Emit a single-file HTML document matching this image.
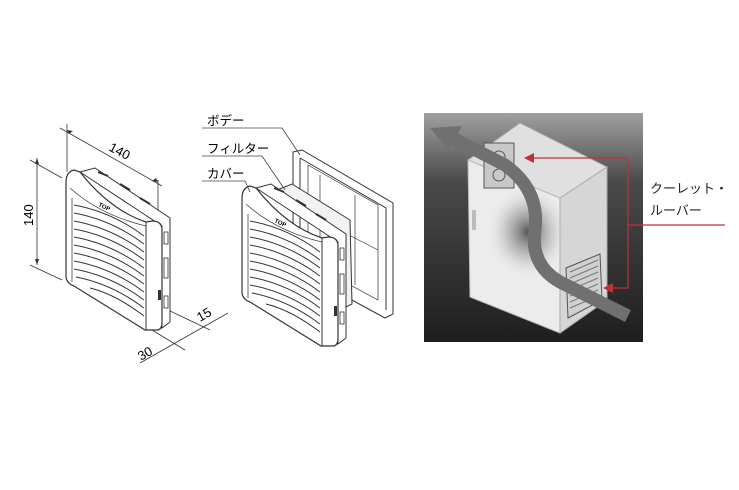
<!DOCTYPE html>
<html><head><meta charset="utf-8"><style>
body{margin:0;background:#fff;}
svg{display:block;}
text{font-family:"Liberation Sans","Noto Sans CJK JP",sans-serif;}
</style></head><body>
<svg width="739" height="490" viewBox="0 0 739 490" xmlns="http://www.w3.org/2000/svg">
<defs>
<linearGradient id="bg" x1="0" y1="0" x2="0" y2="1">
<stop offset="0" stop-color="#a0a0a0"/><stop offset="0.3" stop-color="#4a4a4a"/><stop offset="1" stop-color="#1e1e1e"/>
</linearGradient>
<radialGradient id="glow" cx="0.5" cy="0.5" r="0.5">
<stop offset="0" stop-color="#555"/><stop offset="0.6" stop-color="#aaa" stop-opacity="0.5"/><stop offset="1" stop-color="#ddd" stop-opacity="0"/>
</radialGradient>
<g id="cover">
<!-- body side behind -->
<path d="M80,172 L95,168 L170,218 L170,322 L162,328 L162,226 Z" fill="#fff" stroke="#333" stroke-width="1"/>
<path d="M98,172 L108,176 M120,184 L130,190 M140,198 L150,204" stroke="#333" stroke-width="2"/>
<rect x="164" y="232" width="4" height="12" fill="#fff" stroke="#333" stroke-width="0.8"/>
<rect x="164" y="258" width="4" height="20" fill="#fff" stroke="#333" stroke-width="0.8"/>
<rect x="164" y="296" width="4" height="12" fill="#fff" stroke="#333" stroke-width="0.8"/>
<!-- front cover -->
<path d="M74,170 Q66,172 66,182 L66,276 Q66,283 74,286 L145,330 L158,330 Q162,329 162,322 L162,230 Q162,221 152,221 L146,222 Q110,210 80,172 Z" fill="#fff" stroke="#333" stroke-width="1.2"/>
<path d="M146,222 L146,330" stroke="#333" stroke-width="1"/>
<path d="M70,188 Q100,215 146,226" fill="none" stroke="#444" stroke-width="0.8"/>
<path d="M72,198 L72,282" stroke="#444" stroke-width="0.8"/>
<rect x="158" y="290" width="3" height="10" fill="#333"/>
<path d="M74,205 Q112,212 144,236" fill="none" stroke="#333"/>
<path d="M74,213 Q112,220 144,244" fill="none" stroke="#333"/>
<path d="M74,221 Q112,228 144,252" fill="none" stroke="#333"/>
<path d="M74,229 Q112,236 144,260" fill="none" stroke="#333"/>
<path d="M74,237 Q112,244 144,268" fill="none" stroke="#333"/>
<path d="M74,245 Q112,252 144,276" fill="none" stroke="#333"/>
<path d="M74,253 Q112,260 144,284" fill="none" stroke="#333"/>
<path d="M74,261 Q112,268 144,292" fill="none" stroke="#333"/>
<path d="M74,269 Q112,276 144,300" fill="none" stroke="#333"/>
<path d="M76,277 Q112,284 144,308" fill="none" stroke="#333"/>
<path d="M90,288 Q115,294 144,316" fill="none" stroke="#333"/>
<text x="98" y="206" font-size="6" font-weight="bold" transform="rotate(25 98 206)">TOP</text>
</g>
</defs>
<rect width="739" height="490" fill="#fff"/>

<!-- Left product -->
<g stroke="#333" stroke-width="0.8" fill="none">
<line x1="67" y1="124" x2="67" y2="172"/>
<line x1="60" y1="128" x2="162" y2="186"/>
<line x1="158" y1="180" x2="158" y2="225"/>
<line x1="30" y1="160" x2="62" y2="178"/>
<line x1="37" y1="158" x2="37" y2="265"/>
<line x1="30" y1="265" x2="62" y2="280"/>
<line x1="168" y1="310" x2="210" y2="330"/>
<line x1="152" y1="330" x2="185" y2="350"/>
<line x1="140" y1="363" x2="228" y2="313"/>
</g>
<polygon points="67,130 73,131 69,134" fill="#333"/>
<polygon points="158,182 152,181 156,178" fill="#333"/>
<polygon points="37,158 35,164 39,164" fill="#333"/>
<polygon points="37,265 35,259 39,259" fill="#333"/>
<text x="108" y="150" font-size="13" transform="rotate(28 108 150)">140</text>
<text x="33" y="226" font-size="13" transform="rotate(-90 33 226)">140</text>
<text x="141" y="361" font-size="13" transform="rotate(-30 141 361)">30</text>
<text x="200" y="322" font-size="13" transform="rotate(-30 200 322)">15</text>
<use href="#cover"/>

<!-- Middle exploded -->
<g stroke="#333" stroke-width="1" fill="#fff">
<path d="M293,152 L302,150 L393,203 L393,314 L385,318 L293,268 Z"/>
<path d="M300,158 L386,208 L386,310" fill="none"/>
<path d="M300,158 L300,262" fill="none"/>
<path d="M308,165 L378,205 L378,300 L308,262 Z" fill="none" stroke-width="0.7"/>
<path d="M320,175 L320,260 M355,195 L355,285 M310,215 L378,250" fill="none" stroke-width="0.7"/>
<path d="M277,190 L292,184 L350,220 L352,304 L340,310 L338,234 Z" fill="#f2f2f2"/>
<path d="M277,190 L338,234" fill="none"/>
</g>
<g transform="translate(176,16)"><use href="#cover"/></g>
<g stroke="#444" stroke-width="0.8" fill="none">
<line x1="202" y1="128" x2="282" y2="128"/><line x1="282" y1="128" x2="300" y2="155"/>
<line x1="202" y1="156" x2="262" y2="156"/><line x1="262" y1="156" x2="285" y2="190"/>
<line x1="202" y1="181" x2="245" y2="181"/><line x1="245" y1="181" x2="250" y2="192"/>
</g>
<text x="207" y="125" font-size="12.5">ボデー</text>
<text x="207" y="153" font-size="12.5">フィルター</text>
<text x="207" y="178" font-size="12.5">カバー</text>

<!-- Right photo -->
<rect x="424" y="113" width="219" height="229" fill="url(#bg)"/>
<polygon points="468,160 520,123 607,167 560,198" fill="#e0e0e0" stroke="#aaa"/>
<polygon points="468,160 560,198 560,333 470,297" fill="#ececec" stroke="#bbb"/>
<polygon points="560,198 607,167 607,300 560,333" fill="#d6d6d6" stroke="#aaa"/>
<ellipse cx="528" cy="232" rx="40" ry="45" fill="url(#glow)"/>
<rect x="472" y="210" width="4" height="20" fill="#bbb"/>
<rect x="484" y="143" width="30" height="45" fill="#c8c8c8" stroke="#555"/>
<circle cx="499" cy="157" r="6" fill="none" stroke="#555"/>
<circle cx="499" cy="175" r="6" fill="none" stroke="#555"/>
<polygon points="566,268 600,254 602,300 568,318" fill="#d0d0d0" stroke="#555"/>
<path d="M570,272 L598,260 M570,278 L598,266 M570,284 L598,272 M570,290 L598,278 M570,296 L598,284 M570,302 L598,290 M570,308 L598,296" stroke="#777"/>
<path d="M628,316 L560,282 Q530,265 535,230 Q540,190 505,165 L452,138" fill="none" stroke="#707070" stroke-width="13"/>
<polygon points="430,128 462,126 449,150" fill="#707070"/>
<g stroke="#c0303a" stroke-width="1.2" fill="none">
<polyline points="532,158 628,158 628,288 610,288"/>
<line x1="628" y1="225" x2="725" y2="225"/>
</g>
<polygon points="524,158 534,153 534,163" fill="#c0303a"/>
<polygon points="603,288 613,283 613,293" fill="#c0303a"/>
<text x="650" y="193" font-size="13" fill="#222">クーレット・</text>
<text x="650" y="215" font-size="13" fill="#222">ルーバー</text>
</svg>
</body></html>
